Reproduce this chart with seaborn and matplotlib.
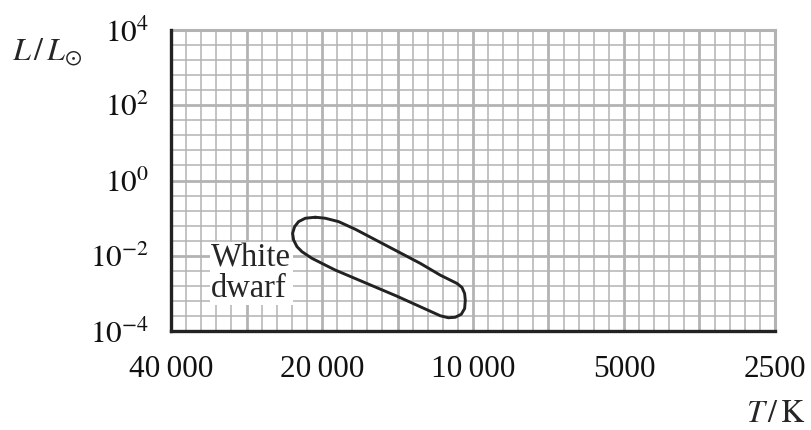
import numpy as np
import pandas as pd
import matplotlib
matplotlib.use("Agg")
import matplotlib.pyplot as plt
import seaborn as sns

# ---- data ----
x_ticks = [40000, 20000, 10000, 5000, 2500]
x_ticklabels = ["40\u2009000", "20\u2009000", "10\u2009000", "5000", "2500"]
y_ticks = [1e-4, 1e-2, 1e0, 1e2, 1e4]
y_ticklabels = [r"$10^{-4}$", r"$10^{-2}$", r"$10^{0}$", r"$10^{2}$", r"$10^{4}$"]

# White dwarf region outline (closed), temperature in K, luminosity in L_sun
wd_T = [20624, 19700, 18532, 17164, 12736, 11620, 10764, 10520, 10392, 10360,
        10392, 10552, 10848, 11200, 11620, 14176, 18816, 19700, 20940, 21924,
        22432, 22784, 22892, 22680, 22268, 21592, 20624]
wd_L = [0.1057, 0.0993, 0.0807, 0.0506, 0.00627, 0.00305, 0.00184, 0.00144,
        0.000993, 0.000659, 0.000395, 0.000279, 0.000232, 0.000225, 0.000254,
        0.000841, 0.00416, 0.00565, 0.00853, 0.0128, 0.0174, 0.0262, 0.0395,
        0.0593, 0.0807, 0.0993, 0.1057]
region_label = "White\ndwarf"
region_label_T = 33240
region_label_L = 0.00340

x_label = r"$T\,/\,\mathrm{K}$"
y_label = r"$L\,/\,L_{\odot}$"

# ---- style ----
sns.set_style("white")
plt.rcParams["font.family"] = ["Liberation Serif", "DejaVu Serif"]
plt.rcParams["mathtext.fontset"] = "stix"

fig = plt.figure(figsize=(8.12, 4.30), dpi=100)
ax = fig.add_axes([171 / 812, 1 - 331 / 430, (775 - 171) / 812, (331 - 30) / 430])

ax.set_xscale("log")
ax.set_yscale("log")
ax.set_xlim(40000, 2500)
ax.set_ylim(1e-4, 1e4)

grid_c = "#b3b3b3"
# grid: minor every 2^(1/10) in T, every 10^0.4 in L; thick every 2^(1/2) and 10^2
for k in range(0, 41):
    xv = 40000 * 2 ** (-k / 10)
    thick = (k % 5 == 0)
    ax.axvline(xv, color=grid_c, lw=2.0 if thick else 1.1, zorder=0.5)
for k in range(0, 21):
    yv = 10 ** (-4 + 0.4 * k)
    thick = (k % 5 == 0)
    ax.axhline(yv, color=grid_c, lw=2.0 if thick else 1.1, zorder=0.5)

df = pd.DataFrame({"T": wd_T, "L": wd_L})
sns.lineplot(data=df, x="T", y="L", sort=False, estimator=None, color="#222222",
             lw=2.1, ax=ax, zorder=3, solid_joinstyle="round")

ax.text(region_label_T, region_label_L, region_label, fontsize=23.5, ha="left",
        va="center", linespacing=1.0, zorder=4,
        bbox=dict(facecolor="white", edgecolor="none", pad=1.0))

ax.set_xticks(x_ticks)
ax.set_xticklabels(x_ticklabels)
ax.set_yticks(y_ticks)
ax.set_yticklabels(y_ticklabels)
ax.xaxis.set_minor_locator(matplotlib.ticker.NullLocator())
ax.yaxis.set_minor_locator(matplotlib.ticker.NullLocator())
ax.tick_params(axis="both", which="major", direction="out", length=11, width=0.9,
               color="#222222", labelsize=22.5, labelcolor="#111111")
ax.tick_params(axis="x", pad=6)
ax.tick_params(axis="y", pad=5)
ax.set_xlabel("")
ax.set_ylabel("")

for side in ["left", "bottom"]:
    ax.spines[side].set_color("#222222")
    ax.spines[side].set_linewidth(2.4)
    ax.spines[side].set_zorder(5)
for side in ["top", "right"]:
    ax.spines[side].set_color(grid_c)
    ax.spines[side].set_linewidth(2.2)
    ax.spines[side].set_visible(True)

fig.text(12 / 812, 1 - 60 / 430, y_label, fontsize=23, ha="left", va="baseline")
fig.text(806 / 812, 1 - 422 / 430, x_label, fontsize=23, ha="right", va="baseline")

fig.savefig("out.png", dpi=100)
